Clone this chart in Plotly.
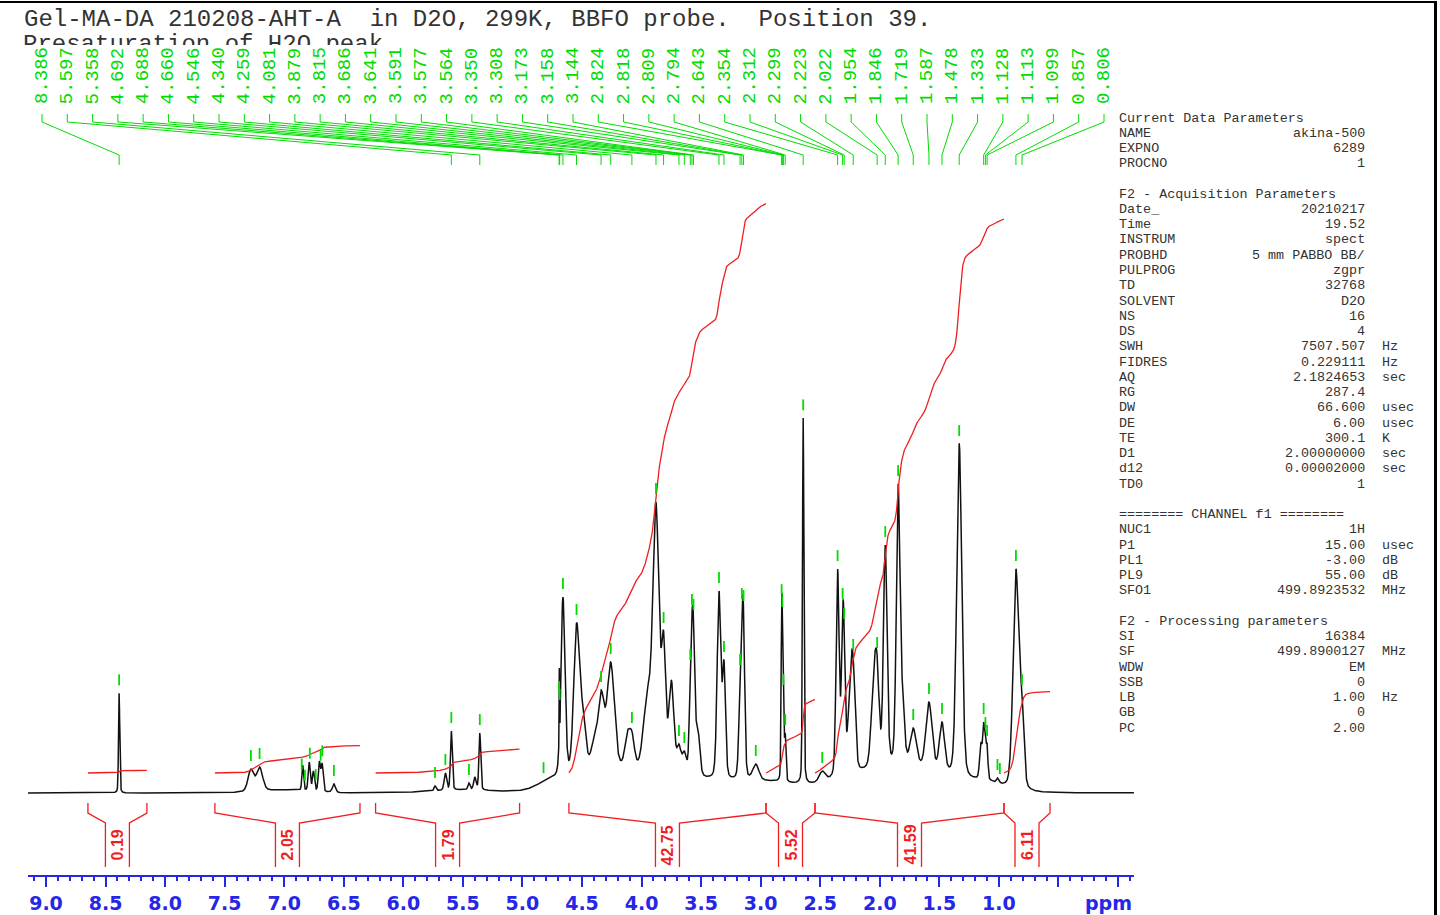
import numpy as np
import plotly.graph_objects as go

# ---------------- spectrum peak table ----------------
# position (ppm), apex height (intensity units), half width at half maximum (ppm)
PEAK_PPM = [8.386,
            7.280, 7.207, 6.845, 6.790, 6.755, 6.705, 6.682, 6.583,
            5.734, 5.647, 5.597, 5.449, 5.400, 5.358,
            4.823,
            4.660, 4.546, 4.496, 4.400, 4.340, 4.259, 4.120, 4.081,
            3.950, 3.879, 3.815, 3.750, 3.686, 3.641, 3.591, 3.577, 3.564, 3.530,
            3.350, 3.308, 3.173, 3.158, 3.144, 3.041,
            2.824, 2.818, 2.809, 2.794, 2.643, 2.483,
            2.354, 2.312, 2.299, 2.245, 2.223, 2.050, 2.022,
            1.954, 1.846, 1.810, 1.719, 1.587, 1.478, 1.333,
            1.152, 1.128, 1.113, 1.099, 1.012, 0.992,
            0.857, 0.806]
PEAK_HEIGHT = [100,
               24, 26, 28, 31, 22, 32, 30, 9,
               7, 20, 62, 10, 16, 60,
               9,
               196, 170, 90, 55, 103, 131, 62, 62,
               105, 291, 162, 113, 49, 42, 125, 180, 175, 69,
               202, 133, 120, 186, 184, 29,
               190, 178, 100, 60, 375, 22,
               224, 186, 166, 129, 135, 129, 137,
               248, 309, 109, 65, 91, 71, 349,
               51, 71, 57, 49, 15, 11,
               224, 100]
PEAK_HWHM = [0.006,
             0.028, 0.030, 0.008, 0.010, 0.010, 0.010, 0.010, 0.015,
             0.010, 0.012, 0.009, 0.010, 0.012, 0.009,
             0.040,
             0.020, 0.028, 0.030, 0.030, 0.030, 0.035, 0.025, 0.025,
             0.040, 0.030, 0.020, 0.025, 0.020, 0.020, 0.012, 0.013, 0.013, 0.020,
             0.018, 0.015, 0.014, 0.013, 0.013, 0.030,
             0.006, 0.006, 0.006, 0.007, 0.007, 0.030,
             0.015, 0.013, 0.012, 0.025, 0.020, 0.025, 0.020,
             0.018, 0.018, 0.020, 0.030, 0.030, 0.025, 0.025,
             0.012, 0.010, 0.008, 0.008, 0.010, 0.008,
             0.028, 0.020]

# broad polymer background humps
HUMP_PPM = [7.00, 5.50, 4.78, 4.30, 3.60, 2.95, 2.10, 1.60, 1.10]
HUMP_HEIGHT = [3, 3, 6, 22, 12, 10, 18, 18, 8]
HUMP_HWHM = [0.25, 0.30, 0.12, 0.35, 0.35, 0.30, 0.35, 0.30, 0.15]

# residual water line after presaturation (dispersive)
WATER_PPM = [4.6905, 4.6845]
WATER_HEIGHT = [70, -14]
WATER_HWHM = [0.0018, 0.0018]

# labelled peak picking
PICK_LABELED = [8.386, 5.597, 5.358, 4.692, 4.688, 4.660, 4.546, 4.340, 4.259,
                4.081, 3.879, 3.815, 3.686, 3.641, 3.591, 3.577, 3.564, 3.350,
                3.308, 3.173, 3.158, 3.144, 2.824, 2.818, 2.809, 2.794, 2.643,
                2.354, 2.312, 2.299, 2.223, 2.022, 1.954, 1.846, 1.719, 1.587,
                1.478, 1.333, 1.128, 1.113, 1.099, 0.857, 0.806]
# further picked positions (marker only)
PICK_UNLABELED = [7.280, 7.207, 6.853, 6.826, 6.785, 6.736, 6.694, 6.680,
                  6.583, 5.734, 5.647, 5.449, 4.823, 3.041, 2.483, 1.012, 0.992]

# integrals
INTEGRAL_START = [8.648, 7.582, 6.233, 4.610, 2.955, 2.544, 0.957]
INTEGRAL_END = [8.153, 6.364, 5.024, 2.955, 2.544, 0.957, 0.571]
INTEGRAL_VALUE = [0.19, 2.05, 1.79, 42.75, 5.52, 41.59, 6.11]

# axis
AXIS_TICKS = [9.0, 8.5, 8.0, 7.5, 7.0, 6.5, 6.0, 5.5, 5.0, 4.5, 4.0,
              3.5, 3.0, 2.5, 2.0, 1.5, 1.0, 0.5, 0.0]
AXIS_TICK_TEXT = ["9.0", "8.5", "8.0", "7.5", "7.0", "6.5", "6.0", "5.5",
                  "5.0", "4.5", "4.0", "3.5", "3.0", "2.5", "2.0", "1.5",
                  "1.0", "", ""]

TITLE_LINE_1 = "Gel-MA-DA 210208-AHT-A  in D2O, 299K, BBFO probe.  Position 39."
TITLE_LINE_2 = "Presaturation of H2O peak"

# acquisition / processing parameter listing: (name, value, unit)
PARAMS = [
    ("Current Data Parameters", None, None),
    ("NAME", "akina-500", ""),
    ("EXPNO", "6289", ""),
    ("PROCNO", "1", ""),
    None,
    ("F2 - Acquisition Parameters", None, None),
    ("Date_", "20210217", ""),
    ("Time", "19.52", ""),
    ("INSTRUM", "spect", ""),
    ("PROBHD", "5 mm PABBO BB/", ""),
    ("PULPROG", "zgpr", ""),
    ("TD", "32768", ""),
    ("SOLVENT", "D2O", ""),
    ("NS", "16", ""),
    ("DS", "4", ""),
    ("SWH", "7507.507", "Hz"),
    ("FIDRES", "0.229111", "Hz"),
    ("AQ", "2.1824653", "sec"),
    ("RG", "287.4", ""),
    ("DW", "66.600", "usec"),
    ("DE", "6.00", "usec"),
    ("TE", "300.1", "K"),
    ("D1", "2.00000000", "sec"),
    ("d12", "0.00002000", "sec"),
    ("TD0", "1", ""),
    None,
    ("======== CHANNEL f1 ========", None, None),
    ("NUC1", "1H", ""),
    ("P1", "15.00", "usec"),
    ("PL1", "-3.00", "dB"),
    ("PL9", "55.00", "dB"),
    ("SFO1", "499.8923532", "MHz"),
    None,
    ("F2 - Processing parameters", None, None),
    ("SI", "16384", ""),
    ("SF", "499.8900127", "MHz"),
    ("WDW", "EM", ""),
    ("SSB", "0", ""),
    ("LB", "1.00", "Hz"),
    ("GB", "0", ""),
    ("PC", "2.00", ""),
]

# ---------------- styling / geometry ----------------
W_PX, H_PX = 1440, 915
M_L, M_R, M_T, M_B = 28, 306, 0, 40
X_RANGE = [9.1511, -0.1343]
Y_RANGE = [-82, 793]
BLUE = "#2626e6"
GREEN = "#00dc00"
RED = "#f01e1e"
TEXT_GREY = "#333333"
MONO = "Liberation Mono"
NBSP = "\u00a0"

PANEL_LEFT, PANEL_VALUE_RIGHT, PANEL_UNIT_LEFT = 1117, 1367, 1380
PANEL_TOP, PANEL_STEP, PANEL_FONT = 118, 15.25, 13.4

plot_w = W_PX - M_L - M_R
plot_h = H_PX - M_T - M_B
px_per_ppm = plot_w / (X_RANGE[0] - X_RANGE[1])


def paper_x(px):
    return (px - M_L) / plot_w


def paper_y(py):
    return 1 - (py - M_T) / plot_h


def keep_spaces(s):
    return s.replace(" ", NBSP)


# ---------------- build spectrum ----------------
def pvoigt(x, x0, w, eta=0.25):
    u = (x - x0) / w
    return eta / (1 + u * u) + (1 - eta) * np.exp(-np.log(2) * u * u)


def gauss(x, x0, w):
    u = (x - x0) / w
    return np.exp(-np.log(2) * u * u)


def background(x):
    out = np.zeros_like(x, dtype=float)
    for p, h, w in zip(HUMP_PPM, HUMP_HEIGHT, HUMP_HWHM):
        out += h * gauss(x, p, w)
    for p, h, w in zip(WATER_PPM, WATER_HEIGHT, WATER_HWHM):
        out += h * pvoigt(x, p, w, 0.6)
    return out


pk = np.array(PEAK_PPM)
tgt = np.array(PEAK_HEIGHT, dtype=float)
wid = np.array(PEAK_HWHM)
M = pvoigt(pk[:, None], pk[None, :], wid[None, :])
rhs = tgt - background(pk)
amp = np.clip(rhs.copy(), 0, None)
# projected Gauss-Seidel so every apex reaches its listed height
for _ in range(600):
    for i in range(len(pk)):
        r = rhs[i] - M[i] @ amp + M[i, i] * amp[i]
        amp[i] = max(0.0, r / M[i, i])

ppm = np.arange(X_RANGE[0], X_RANGE[1], -0.0008)
spec = background(ppm)
for p, a, w in zip(pk, amp, wid):
    spec += a * pvoigt(ppm, p, w)


def spec_at(x):
    return np.interp(x, ppm[::-1], spec[::-1])


fig = go.Figure()

# spectrum
fig.add_trace(go.Scatter(x=ppm, y=spec, mode="lines",
                         line=dict(color="#111111", width=1.5),
                         hoverinfo="skip"))

# integral curves
INT_OFFSET = 20
INT_SCALE = 13.32
for s, e, v in zip(INTEGRAL_START, INTEGRAL_END, INTEGRAL_VALUE):
    m = (ppm <= s) & (ppm >= e)
    c = np.cumsum(np.clip(spec[m], 0, None))
    c = c / c[-1]
    fig.add_trace(go.Scatter(x=ppm[m], y=INT_OFFSET + v * INT_SCALE * c,
                             mode="lines", line=dict(color=RED, width=1.3),
                             hoverinfo="skip"))

# integral brackets
bx, by = [], []
half = 12 / px_per_ppm
for s, e in zip(INTEGRAL_START, INTEGRAL_END):
    mid = (s + e) / 2
    bx += [s, s, mid + half, mid + half, None, mid - half, mid - half, e, e, None]
    by += [-10, -20, -30, -74, None, -74, -30, -20, -10, None]
fig.add_trace(go.Scatter(x=bx, y=by, mode="lines",
                         line=dict(color=RED, width=1.3), hoverinfo="skip"))

# peak pick markers
mx, my = [], []
for p in PICK_LABELED + PICK_UNLABELED:
    h = float(spec_at(p))
    mx += [p, p, None]
    my += [h + 8, h + 19, None]
fig.add_trace(go.Scatter(x=mx, y=my, mode="lines",
                         line=dict(color=GREEN, width=1.8), hoverinfo="skip"))

# label connectors
n_lab = len(PICK_LABELED)
col_left = X_RANGE[0] - (42 - M_L) / px_per_ppm
col_right = X_RANGE[0] - (1104 - M_L) / px_per_ppm
label_x = np.linspace(col_left, col_right, n_lab)
cx, cy = [], []
for lx, p in zip(label_x, PICK_LABELED):
    cx += [lx, lx, p, p, None]
    cy += [679, 671, 638, 628, None]
fig.add_trace(go.Scatter(x=cx, y=cy, mode="lines",
                         line=dict(color=GREEN, width=1), hoverinfo="skip"))

annotations = []
for lx, p in zip(label_x, PICK_LABELED):
    annotations.append(dict(x=lx, y=717, xref="x", yref="y", text=f"{p:.3f}",
                            showarrow=False, textangle=-90,
                            xanchor="center", yanchor="middle",
                            font=dict(family=MONO, size=19, color=GREEN)))

for s, e, v in zip(INTEGRAL_START, INTEGRAL_END, INTEGRAL_VALUE):
    annotations.append(dict(x=(s + e) / 2, y=-52, xref="x", yref="y",
                            text=f"{v:.2f}", showarrow=False, textangle=-90,
                            xanchor="center", yanchor="middle",
                            font=dict(family="Liberation Sans", size=16,
                                      color=RED, weight="bold")))

# title lines (the second one is cut off by the peak label band)
annotations.append(dict(x=paper_x(22), y=paper_y(19.5), xref="paper", yref="paper",
                        text=keep_spaces(TITLE_LINE_1), showarrow=False,
                        xanchor="left", yanchor="middle",
                        font=dict(family=MONO, size=24, color=TEXT_GREY)))
annotations.append(dict(x=paper_x(22), y=paper_y(30), xref="paper", yref="paper",
                        text=keep_spaces(TITLE_LINE_2), showarrow=False,
                        xanchor="left", yanchor="top", valign="top",
                        height=14, borderpad=0,
                        font=dict(family=MONO, size=24, color=TEXT_GREY)))

# parameter listing: name left, value right-aligned, unit after it
panel_font = dict(family=MONO, size=PANEL_FONT, color=TEXT_GREY)
for i, row in enumerate(PARAMS):
    if row is None:
        continue
    name, val, unit = row
    yp = paper_y(PANEL_TOP + PANEL_STEP * i)
    annotations.append(dict(x=paper_x(PANEL_LEFT), y=yp, xref="paper", yref="paper",
                            text=keep_spaces(name), showarrow=False,
                            xanchor="left", yanchor="middle", font=panel_font))
    if val:
        annotations.append(dict(x=paper_x(PANEL_VALUE_RIGHT), y=yp, xref="paper",
                                yref="paper", text=keep_spaces(val), showarrow=False,
                                xanchor="right", yanchor="middle", font=panel_font))
    if unit:
        annotations.append(dict(x=paper_x(PANEL_UNIT_LEFT), y=yp, xref="paper",
                                yref="paper", text=unit, showarrow=False,
                                xanchor="left", yanchor="middle", font=panel_font))

annotations.append(dict(x=paper_x(1108), y=paper_y(903), xref="paper", yref="paper",
                        text="ppm", showarrow=False, xanchor="center", yanchor="middle",
                        font=dict(family="DejaVu Sans", size=19, color=BLUE,
                                  weight="bold")))

shapes = [
    dict(type="line", xref="paper", yref="paper", x0=paper_x(0), x1=paper_x(1437),
         y0=paper_y(2), y1=paper_y(2), line=dict(color="black", width=2)),
    dict(type="line", xref="paper", yref="paper", x0=paper_x(1435.5), x1=paper_x(1435.5),
         y0=paper_y(1), y1=paper_y(915), line=dict(color="black", width=3)),
]

fig.update_layout(
    width=W_PX, height=H_PX,
    margin=dict(l=M_L, r=M_R, t=M_T, b=M_B, pad=0),
    paper_bgcolor="white", plot_bgcolor="white",
    showlegend=False,
    annotations=annotations,
    shapes=shapes,
    xaxis=dict(range=X_RANGE, showgrid=False, zeroline=False,
               showline=True, linecolor=BLUE, linewidth=2,
               tickmode="array", tickvals=AXIS_TICKS, ticktext=AXIS_TICK_TEXT,
               ticks="outside", ticklen=10, tickwidth=2, tickcolor=BLUE,
               tickfont=dict(family="DejaVu Sans", size=19, color=BLUE,
                             weight="bold"),
               minor=dict(dtick=0.1, tick0=0, ticks="outside", ticklen=4,
                          tickwidth=1.5, tickcolor=BLUE, showgrid=False)),
    yaxis=dict(range=Y_RANGE, visible=False, showgrid=False, zeroline=False),
)

fig.write_html("out.html")
